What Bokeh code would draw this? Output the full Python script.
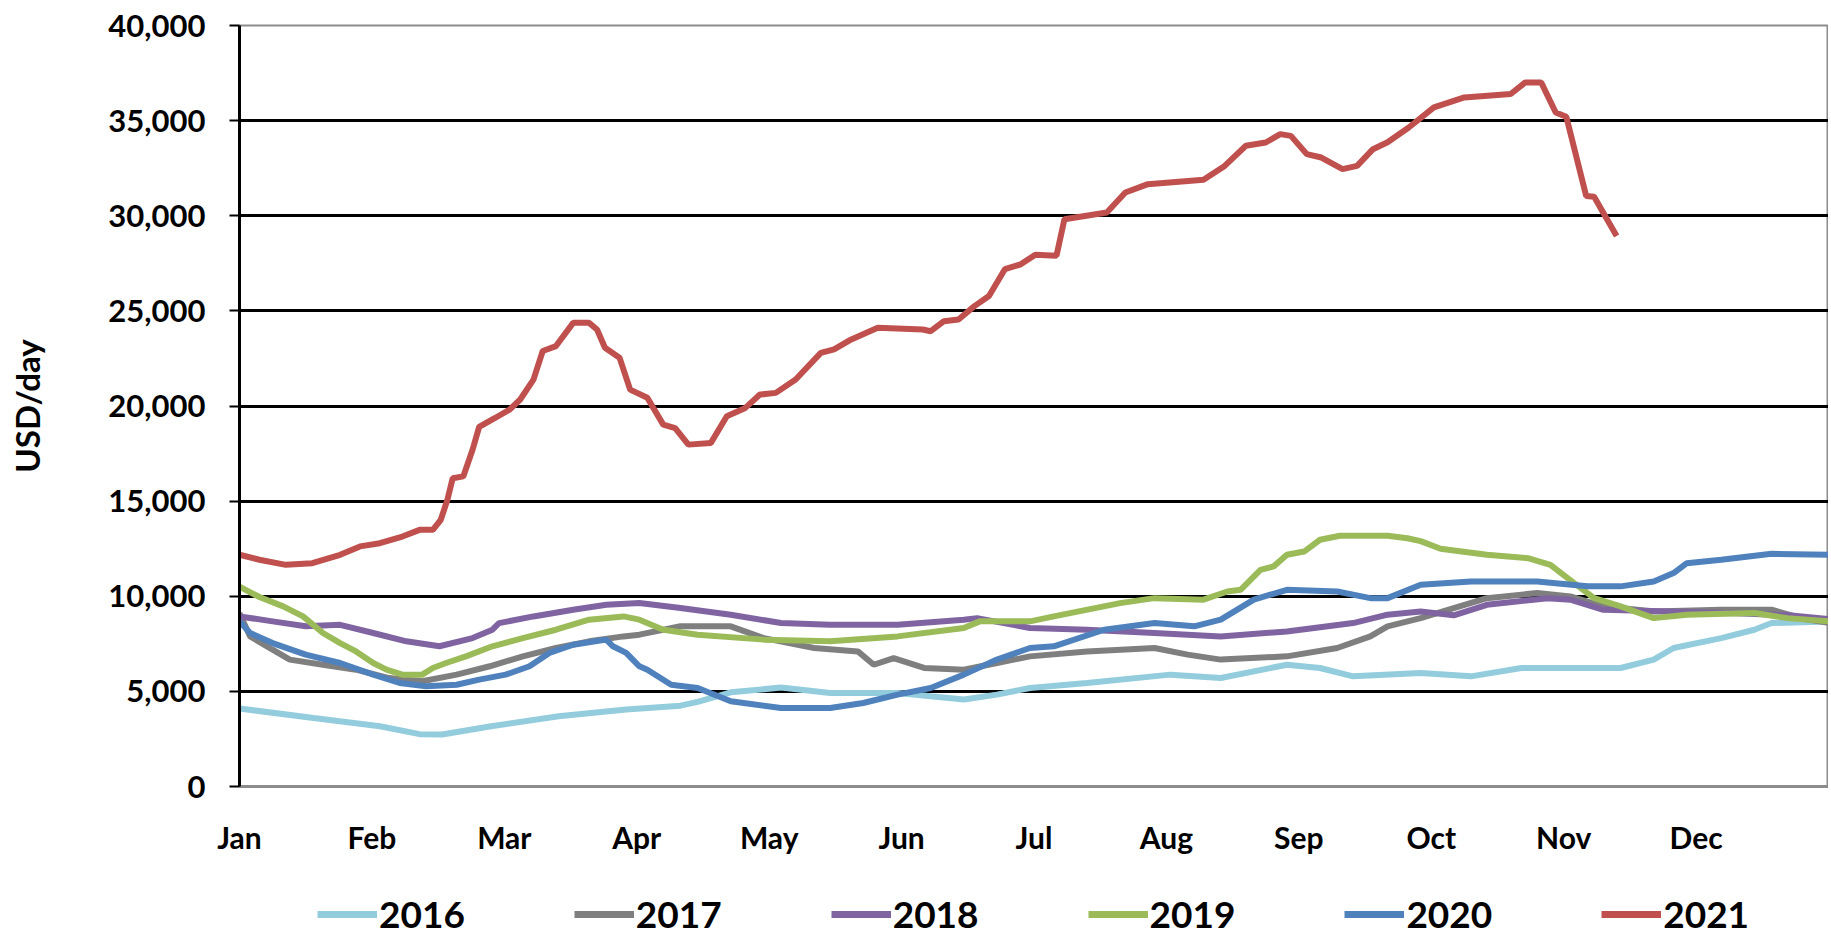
from bokeh.plotting import figure
from bokeh.layouts import column
from bokeh.models import FixedTicker, Legend, LegendItem, Range1d, NumeralTickFormatter
from bokeh.embed import file_html
from bokeh.resources import INLINE

months = ["Jan", "Feb", "Mar", "Apr", "May", "Jun", "Jul", "Aug", "Sep", "Oct", "Nov", "Dec"]
y_ticks = [0, 5000, 10000, 15000, 20000, 25000, 30000, 35000, 40000]

# (month position, USD/day)
s2016 = [(0, 4100), (0.56, 3600), (1.06, 3170), (1.36, 2750), (1.53, 2730), (1.90, 3170),
         (2.41, 3690), (2.92, 4050), (3.33, 4250), (3.46, 4450), (3.71, 4950), (4.09, 5200),
         (4.46, 4920), (4.97, 4920), (5.22, 4740), (5.47, 4570), (5.72, 4830), (5.97, 5180),
         (6.40, 5440), (7.03, 5880), (7.41, 5700), (7.91, 6400), (8.16, 6230), (8.41, 5790),
         (8.92, 5970), (9.30, 5790), (9.68, 6230), (10.43, 6230), (10.68, 6670), (10.83, 7280),
         (11.19, 7800), (11.44, 8240), (11.57, 8590), (12.0, 8680)]
s2017 = [(0, 9100), (0.08, 7890), (0.25, 7190), (0.38, 6670), (0.63, 6400), (0.88, 6140),
         (1.13, 5700), (1.38, 5530), (1.64, 5880), (1.89, 6320), (2.14, 6840), (2.39, 7280),
         (2.64, 7630), (2.90, 7890), (3.02, 7980), (3.33, 8420), (3.71, 8420), (3.96, 7800),
         (4.34, 7280), (4.67, 7100), (4.79, 6400), (4.94, 6750), (5.17, 6230), (5.47, 6140),
         (5.72, 6490), (5.97, 6840), (6.40, 7100), (6.91, 7280), (7.16, 6930), (7.41, 6670),
         (7.91, 6840), (8.29, 7280), (8.54, 7890), (8.67, 8420), (8.92, 8850), (9.17, 9380),
         (9.42, 9900), (9.80, 10170), (10.05, 9990), (10.30, 9470), (10.68, 9200), (11.19, 9290),
         (11.57, 9290), (11.82, 8800), (12.0, 8600)]
s2018 = [(0, 8940), (0.25, 8680), (0.50, 8420), (0.76, 8500), (1.01, 8070), (1.26, 7630),
         (1.51, 7370), (1.76, 7800), (1.91, 8240), (1.96, 8590), (2.22, 8940), (2.52, 9290),
         (2.77, 9550), (3.02, 9640), (3.33, 9380), (3.71, 9030), (4.09, 8590), (4.46, 8500),
         (4.97, 8500), (5.47, 8770), (5.57, 8850), (5.97, 8330), (6.40, 8240), (6.91, 8070),
         (7.41, 7890), (7.91, 8150), (8.41, 8590), (8.67, 9030), (8.92, 9200), (9.17, 9000),
         (9.42, 9550), (9.88, 9900), (10.05, 9820), (10.30, 9290), (10.81, 9200), (11.30, 9100),
         (11.70, 9000), (12.0, 8800)]
s2019 = [(0, 10500), (0.15, 9960), (0.33, 9470), (0.48, 8940), (0.63, 8070), (0.76, 7540),
         (0.88, 7100), (1.01, 6490), (1.11, 6140), (1.23, 5880), (1.38, 5880), (1.46, 6230),
         (1.56, 6490), (1.71, 6840), (1.91, 7370), (2.14, 7800), (2.39, 8240), (2.64, 8770),
         (2.90, 8940), (3.02, 8770), (3.20, 8240), (3.46, 7980), (3.96, 7720), (4.46, 7630),
         (4.97, 7890), (5.47, 8330), (5.59, 8680), (5.97, 8680), (6.15, 8940), (6.65, 9640),
         (6.91, 9900), (7.28, 9820), (7.46, 10250), (7.56, 10340), (7.71, 11390), (7.81, 11570),
         (7.91, 12180), (8.04, 12350), (8.16, 12970), (8.31, 13180), (8.67, 13180), (8.82, 13050),
         (8.92, 12900), (9.07, 12500), (9.42, 12180), (9.73, 12000), (9.90, 11650), (10.03, 10950),
         (10.23, 9900), (10.43, 9470), (10.68, 8850), (10.93, 9030), (11.44, 9120), (11.69, 8850),
         (12.0, 8680)]
s2020 = [(0, 8680), (0.08, 8070), (0.25, 7540), (0.50, 6930), (0.76, 6490), (1.01, 5880),
         (1.21, 5440), (1.41, 5270), (1.64, 5350), (1.81, 5620), (2.01, 5880), (2.19, 6320),
         (2.34, 7020), (2.52, 7450), (2.77, 7720), (2.82, 7370), (2.92, 7020), (3.02, 6320),
         (3.08, 6140), (3.26, 5350), (3.46, 5180), (3.71, 4480), (4.09, 4130), (4.46, 4130),
         (4.71, 4390), (4.97, 4830), (5.22, 5180), (5.47, 5880), (5.72, 6670), (5.97, 7280),
         (6.15, 7370), (6.53, 8240), (6.91, 8590), (7.21, 8420), (7.41, 8770), (7.66, 9820),
         (7.91, 10340), (8.29, 10250), (8.54, 9900), (8.67, 9900), (8.92, 10600), (9.30, 10780),
         (9.80, 10780), (10.18, 10520), (10.43, 10520), (10.68, 10780), (10.83, 11220),
         (10.93, 11740), (11.19, 11920), (11.57, 12230), (12.0, 12180)]
s2021 = [(0, 12180), (0.15, 11920), (0.35, 11650), (0.55, 11740), (0.76, 12180), (0.91, 12620),
         (1.06, 12790), (1.23, 13140), (1.36, 13490), (1.46, 13490), (1.52, 14020), (1.57, 15070),
         (1.61, 16200), (1.69, 16300), (1.76, 17700), (1.81, 18900), (1.93, 19370), (2.04, 19810),
         (2.12, 20340), (2.22, 21390), (2.29, 22890), (2.39, 23150), (2.52, 24370), (2.64, 24370),
         (2.70, 24020), (2.76, 23060), (2.87, 22540), (2.95, 20860), (3.08, 20430), (3.20, 19020),
         (3.29, 18840), (3.39, 17970), (3.56, 18060), (3.68, 19460), (3.82, 19900), (3.93, 20600),
         (4.05, 20690), (4.20, 21390), (4.39, 22790), (4.49, 22980), (4.62, 23500), (4.82, 24110),
         (5.16, 24020), (5.22, 23930), (5.32, 24460), (5.43, 24550), (5.55, 25250), (5.66, 25780),
         (5.78, 27190), (5.90, 27450), (6.01, 27950), (6.17, 27900), (6.23, 29820), (6.55, 30170),
         (6.69, 31220), (6.86, 31660), (7.28, 31890), (7.44, 32620), (7.60, 33680), (7.75, 33850),
         (7.86, 34290), (7.94, 34200), (8.06, 33240), (8.17, 33060), (8.33, 32450), (8.44, 32620),
         (8.56, 33500), (8.67, 33860), (8.83, 34640), (9.02, 35700), (9.25, 36220), (9.60, 36400),
         (9.71, 37010), (9.83, 37010), (9.94, 35430), (10.02, 35200), (10.17, 31040), (10.23, 31000),
         (10.40, 28940)]

series = [("2016", s2016, "#93CDDD"), ("2017", s2017, "#7F7F7F"), ("2018", s2018, "#8064A2"),
          ("2019", s2019, "#9BBB59"), ("2020", s2020, "#4F81BD"), ("2021", s2021, "#C0504D")]

FONT = "Lato"

p = figure(width=1828, height=857, output_backend="svg", toolbar_location=None,
           x_range=Range1d(0, 12), y_range=Range1d(0, 40000),
           min_border_left=239, min_border_right=0, min_border_top=25, min_border_bottom=70)
p.background_fill_color = "white"
p.border_fill_color = "white"
p.outline_line_color = "#8C8C8C"
p.outline_line_width = 2

p.xgrid.grid_line_color = None
p.ygrid.ticker = FixedTicker(ticks=y_ticks[1:-1])
p.ygrid.grid_line_color = "black"
p.ygrid.grid_line_width = 3

ya = p.yaxis[0]
ya.ticker = FixedTicker(ticks=y_ticks)
ya.formatter = NumeralTickFormatter(format="0,0")
ya.axis_line_color = "black"
ya.axis_line_width = 3
ya.major_tick_line_color = "black"
ya.major_tick_line_width = 2
ya.major_tick_out = 10
ya.major_tick_in = 0
ya.minor_tick_line_color = None
ya.major_label_standoff = 24
ya.major_label_text_font = FONT
ya.major_label_text_font_style = "bold"
ya.major_label_text_font_size = "31px"
ya.major_label_text_color = "black"
ya.axis_label = "USD/day"
ya.axis_label_text_font = FONT
ya.axis_label_text_font_style = "bold"
ya.axis_label_text_font_size = "33px"
ya.axis_label_text_color = "black"
ya.axis_label_standoff = 58

xa = p.xaxis[0]
xa.ticker = FixedTicker(ticks=list(range(12)))
xa.major_label_overrides = {i: m for i, m in enumerate(months)}
xa.axis_line_color = "#8C8C8C"
xa.axis_line_width = 3
xa.major_tick_line_color = None
xa.major_tick_out = 0
xa.major_tick_in = 0
xa.minor_tick_line_color = None
xa.major_label_standoff = 32
xa.major_label_text_font = FONT
xa.major_label_text_font_style = "bold"
xa.major_label_text_font_size = "30px"
xa.major_label_text_color = "black"

for name, data, color in series:
    xs = [d[0] for d in data]
    ys = [d[1] for d in data]
    p.line(xs, ys, line_color=color, line_width=6)

# legend strip below the chart (its own lines sit outside its visible range)
p2 = figure(width=1828, height=83, output_backend="svg", toolbar_location=None,
            x_axis_location=None, y_axis_location=None, min_border=0,
            min_border_left=0, min_border_right=0, min_border_top=0, min_border_bottom=0,
            x_range=Range1d(0, 12), y_range=Range1d(-2, -1))
p2.outline_line_color = None
p2.grid.visible = False
p2.background_fill_color = "white"
p2.border_fill_color = "white"

items = []
for name, data, color in series:
    xs = [d[0] for d in data]
    ys = [d[1] for d in data]
    r = p2.line(xs, ys, line_color=color, line_width=7)
    items.append(LegendItem(label=name, renderers=[r]))

legend = Legend(items=items, orientation="horizontal", location=(78, 4),
                glyph_width=60, glyph_height=20, label_standoff=2, spacing=109,
                padding=0, margin=0, border_line_color=None, background_fill_alpha=0,
                label_text_font=FONT, label_text_font_style="bold",
                label_text_font_size="37px", label_text_color="black")
p2.add_layout(legend)

layout = column(p, p2, spacing=0)
open("out.html", "w").write(file_html(layout, INLINE))
